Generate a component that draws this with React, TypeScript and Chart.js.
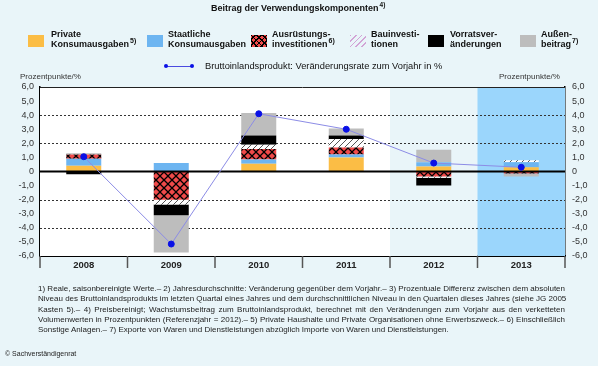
import React, { useEffect, useRef } from 'react';
import { Chart, registerables } from 'chart.js';
Chart.register(...registerables);

const years = ['2008', '2009', '2010', '2011', '2012', '2013'];
const privateCons = [0.4, 0.0, 0.55, 1.0, 0.35, 0.3];
const governmentCons = [0.5, 0.6, 0.3, 0.2, 0.3, 0.35];
const equipmentInv = [0.3, -2.0, 0.75, 0.5, -0.35, -0.15];
const constructionInv = [0.0, -0.35, 0.3, 0.6, -0.1, 0.15];
const inventories = [-0.2, -0.75, 0.65, 0.25, -0.55, 0.0];
const netExports = [0.1, -2.65, 1.6, 0.5, 0.9, -0.2];
const gdpGrowth = [1.05, -5.15, 4.1, 3.0, 0.6, 0.3];
const yTicks = [-6, -5, -4, -3, -2, -1, 0, 1, 2, 3, 4, 5, 6];
const dashedAt = [-4, -2, 2, 4];

const FONT = '"Liberation Sans", Arial, sans-serif';
const BG = '#e9f5f9';
const ORANGE = '#fbbd45';
const BLUE = '#6db5f1';
const GRAY = '#bdbdbd';
const RED = '#f04a4a';
const FORECAST = '#9bd6fc';

function makeCross(): CanvasPattern | string {
  const c = document.createElement('canvas');
  c.width = 8; c.height = 8;
  const g = c.getContext('2d');
  if (!g) return RED;
  g.fillStyle = RED; g.fillRect(0, 0, 8, 8);
  g.strokeStyle = '#000'; g.lineWidth = 1.3;
  g.beginPath();
  g.moveTo(0, 0); g.lineTo(8, 8);
  g.moveTo(8, 0); g.lineTo(0, 8);
  g.stroke();
  return g.createPattern(c, 'repeat') || RED;
}

function makeHatch(): CanvasPattern | string {
  const c = document.createElement('canvas');
  c.width = 6; c.height = 6;
  const g = c.getContext('2d');
  if (!g) return '#fff';
  g.fillStyle = '#fff'; g.fillRect(0, 0, 6, 6);
  g.strokeStyle = '#555'; g.lineWidth = 1;
  g.beginPath();
  g.moveTo(0, 6); g.lineTo(6, 0);
  g.moveTo(-1, 1); g.lineTo(1, -1);
  g.moveTo(5, 7); g.lineTo(7, 5);
  g.stroke();
  return g.createPattern(c, 'repeat') || '#fff';
}

const fmt = (v: number) => (v === 0 ? '0' : Number(v).toFixed(1).replace('.', ','));

const bgPlugin = {
  id: 'bgPlugin',
  beforeDatasetsDraw(chart: any) {
    const { ctx, chartArea, scales } = chart;
    const x = scales.x;
    const y = scales.y;
    const n = years.length;
    const w = (chartArea.right - chartArea.left) / n;
    ctx.save();
    ctx.fillStyle = '#ffffff';
    ctx.fillRect(chartArea.left, chartArea.top, w * 4, chartArea.bottom - chartArea.top);
    ctx.fillStyle = BG;
    ctx.fillRect(x.getPixelForValue(4) - w / 2, chartArea.top, w, chartArea.bottom - chartArea.top);
    ctx.fillStyle = FORECAST;
    ctx.fillRect(x.getPixelForValue(5) - w / 2, chartArea.top, w, chartArea.bottom - chartArea.top);
    ctx.strokeStyle = '#333';
    ctx.lineWidth = 1;
    ctx.setLineDash([2, 2]);
    dashedAt.forEach((v) => {
      const py = Math.round(y.getPixelForValue(v)) + 0.5;
      ctx.beginPath();
      ctx.moveTo(chartArea.left, py);
      ctx.lineTo(chartArea.right, py);
      ctx.stroke();
    });
    ctx.setLineDash([]);
    ctx.strokeStyle = '#222';
    ctx.beginPath();
    ctx.moveTo(chartArea.left, chartArea.top + 0.5);
    ctx.lineTo(chartArea.right, chartArea.top + 0.5);
    ctx.stroke();
    ctx.strokeStyle = '#555';
    ctx.lineWidth = 1.5;
    for (let i = 0; i <= n; i++) {
      const px = chartArea.left + i * w;
      ctx.beginPath();
      ctx.moveTo(px, chartArea.bottom);
      ctx.lineTo(px, chartArea.bottom + 12);
      ctx.stroke();
    }
    ctx.restore();
  },
  beforeDatasetDraw(chart: any, args: any) {
    if (args.index !== 0) return;
    const { ctx, chartArea, scales } = chart;
    const py = scales.y.getPixelForValue(0);
    ctx.save();
    ctx.strokeStyle = '#000';
    ctx.lineWidth = 2;
    ctx.beginPath();
    ctx.moveTo(chartArea.left, py);
    ctx.lineTo(chartArea.right, py);
    ctx.stroke();
    ctx.restore();
  },
};

const supStyle: React.CSSProperties = { fontSize: 7, position: 'relative', top: -4, marginLeft: 1 };

function LegendItem(props: { sx: number; tx: number; l1: string; l2: string; sup?: string; swatch: React.CSSProperties }) {
  return (
    <>
      <div style={{ position: 'absolute', left: props.sx, top: 35, width: 16, height: 12, ...props.swatch }} />
      <div style={{ position: 'absolute', left: props.tx, top: 29, fontSize: 9, fontWeight: 'bold', lineHeight: '10px', color: '#111', whiteSpace: 'nowrap' }}>
        <div>{props.l1}</div>
        <div>
          {props.l2}
          {props.sup ? <span style={supStyle}>{props.sup}</span> : null}
        </div>
      </div>
    </>
  );
}

const footLines = [
  '1) Reale, saisonbereinigte Werte.– 2) Jahresdurchschnitte: Veränderung gegenüber dem Vorjahr.– 3) Prozentuale Differenz zwischen dem absoluten',
  'Niveau des Bruttoinlandsprodukts im letzten Quartal eines Jahres und dem durchschnittlichen Niveau in den Quartalen dieses Jahres (siehe JG 2005',
  'Kasten 5).– 4) Preisbereinigt; Wachstumsbeitrag zum Bruttoinlandsprodukt, berechnet mit den Veränderungen zum Vorjahr aus den verketteten',
  'Volumenwerten in Prozentpunkten (Referenzjahr = 2012).– 5) Private Haushalte und Private Organisationen ohne Erwerbszweck.– 6) Einschließlich',
  'Sonstige Anlagen.– 7) Exporte von Waren und Dienstleistungen abzüglich Importe von Waren und Dienstleistungen.',
];

export default function App() {
  const ref = useRef<HTMLCanvasElement>(null);
  useEffect(() => {
    const canvas = ref.current;
    if (!canvas) return;
    const cross = makeCross();
    const hatch = makeHatch();
    const tickFont = { family: FONT, size: 9 };
    const chart = new Chart(canvas, {
      type: 'bar',
      data: {
        labels: years,
        datasets: [
          {
            type: 'line',
            label: 'Bruttoinlandsprodukt',
            data: gdpGrowth,
            yAxisID: 'yR',
            borderColor: '#8c8ce6',
            borderWidth: 1,
            pointBackgroundColor: '#0a10e6',
            pointBorderColor: '#0a10e6',
            pointRadius: 3,
            order: 0,
          } as any,
          { label: 'Private Konsumausgaben', data: privateCons, backgroundColor: ORANGE, stack: 's', order: 1, yAxisID: 'y' },
          { label: 'Staatliche Konsumausgaben', data: governmentCons, backgroundColor: BLUE, stack: 's', order: 1, yAxisID: 'y' },
          { label: 'Ausrüstungsinvestitionen', data: equipmentInv, backgroundColor: cross as any, stack: 's', order: 1, yAxisID: 'y' },
          { label: 'Bauinvestitionen', data: constructionInv, backgroundColor: hatch as any, stack: 's', order: 1, yAxisID: 'y' },
          { label: 'Vorratsveränderungen', data: inventories, backgroundColor: '#000', stack: 's', order: 1, yAxisID: 'y' },
          { label: 'Außenbeitrag', data: netExports, backgroundColor: GRAY, stack: 's', order: 1, yAxisID: 'y' },
        ],
      },
      options: {
        animation: false,
        responsive: false,
        layout: { padding: { left: 0, right: 0, top: 87, bottom: 90 } },
        plugins: { legend: { display: false }, tooltip: { enabled: false }, title: { display: false } },
        datasets: { bar: { categoryPercentage: 1, barPercentage: 0.4 } } as any,
        scales: {
          x: {
            stacked: true,
            grid: { display: false, drawTicks: false },
            border: { display: true, color: '#000', width: 2 },
            ticks: { font: { family: FONT, size: 9.5, weight: 'bold' }, color: '#222', padding: 4 },
            afterFit: (s: any) => { s.height = 20; },
          },
          y: {
            stacked: true,
            position: 'left',
            min: -6,
            max: 6,
            afterBuildTicks: (s: any) => { s.ticks = yTicks.map((v) => ({ value: v })); },
            ticks: { callback: (v: any) => fmt(Number(v)), font: tickFont, color: '#333', padding: 6 },
            grid: { display: false, drawTicks: false },
            border: { display: true, color: '#000', width: 1.5 },
            afterFit: (s: any) => { s.width = 40; },
          },
          yR: {
            position: 'right',
            min: -6,
            max: 6,
            afterBuildTicks: (s: any) => { s.ticks = yTicks.map((v) => ({ value: v })); },
            ticks: { callback: (v: any) => fmt(Number(v)), font: tickFont, color: '#333', padding: 7 },
            grid: { display: false, drawTicks: false },
            border: { display: true, color: '#000', width: 1.5 },
            afterFit: (s: any) => { s.width = 33; },
          },
        },
      } as any,
      plugins: [bgPlugin],
    });
    return () => chart.destroy();
  }, []);

  return (
    <div style={{ position: 'fixed', left: 0, top: 0, width: 598, height: 366, background: BG, fontFamily: FONT, overflow: 'hidden', color: '#111' }}>
      <canvas ref={ref} width={598} height={366} style={{ position: 'absolute', left: 0, top: 0 }} />
      <div style={{ position: 'absolute', left: 211, top: 3, fontSize: 9, fontWeight: 'bold', whiteSpace: 'nowrap' }}>
        Beitrag der Verwendungskomponenten<span style={{ ...supStyle, fontSize: 6.5 }}>4)</span>
      </div>
      <LegendItem sx={28} tx={51} l1="Private" l2="Konsumausgaben" sup="5)" swatch={{ background: ORANGE }} />
      <LegendItem sx={147} tx={168} l1="Staatliche" l2="Konsumausgaben" swatch={{ background: BLUE }} />
      <LegendItem
        sx={251}
        tx={272}
        l1="Ausrüstungs-"
        l2="investitionen"
        sup="6)"
        swatch={{
          background:
            'repeating-linear-gradient(45deg, #000 0 1px, transparent 1px 4px), repeating-linear-gradient(-45deg, #000 0 1px, transparent 1px 4px), ' + RED,
        }}
      />
      <LegendItem
        sx={350}
        tx={371}
        l1="Bauinvesti-"
        l2="tionen"
        swatch={{ background: 'repeating-linear-gradient(135deg, #d2a4d6 0 1px, transparent 1px 4px)' }}
      />
      <LegendItem sx={428} tx={450} l1="Vorratsver-" l2="änderungen" swatch={{ background: '#000' }} />
      <LegendItem sx={520} tx={541} l1="Außen-" l2="beitrag" sup="7)" swatch={{ background: GRAY }} />
      <div style={{ position: 'absolute', left: 166, top: 65.5, width: 26, height: 1, background: '#4a4ae0' }} />
      <div style={{ position: 'absolute', left: 164, top: 64, width: 4, height: 4, borderRadius: 2, background: '#0a10e6' }} />
      <div style={{ position: 'absolute', left: 190, top: 64, width: 4, height: 4, borderRadius: 2, background: '#0a10e6' }} />
      <div style={{ position: 'absolute', left: 205, top: 60, fontSize: 9.3, whiteSpace: 'nowrap', lineHeight: '12px' }}>
        Bruttoinlandsprodukt: Veränderungsrate zum Vorjahr in %
      </div>
      <div style={{ position: 'absolute', left: 20, top: 72, fontSize: 8, whiteSpace: 'nowrap', color: '#333' }}>Prozentpunkte/%</div>
      <div style={{ position: 'absolute', left: 499, top: 72, fontSize: 8, whiteSpace: 'nowrap', color: '#333' }}>Prozentpunkte/%</div>
      <div style={{ position: 'absolute', left: 38, top: 284, width: 527, fontSize: 8, lineHeight: '10.3px', color: '#222' }}>
        {footLines.map((t, i) => (
          <div
            key={i}
            style={{
              textAlign: i < footLines.length - 1 ? 'justify' : 'left',
              textAlignLast: i < footLines.length - 1 ? 'justify' : 'left',
              whiteSpace: 'nowrap',
            } as any}
          >
            {t}
          </div>
        ))}
      </div>
      <div style={{ position: 'absolute', left: 5, top: 350, fontSize: 7, whiteSpace: 'nowrap', color: '#222' }}>© Sachverständigenrat</div>
    </div>
  );
}
